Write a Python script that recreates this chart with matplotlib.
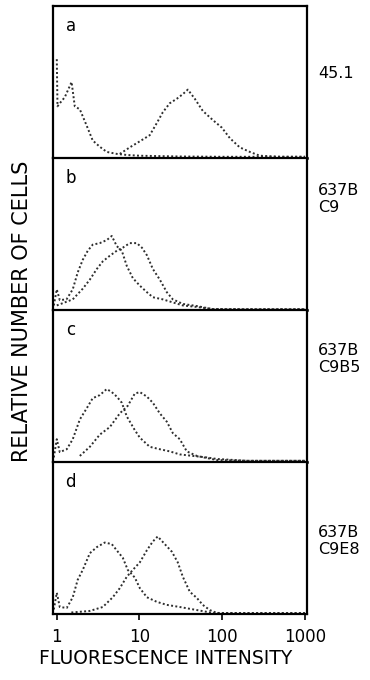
import matplotlib
matplotlib.use("Agg")
import matplotlib.pyplot as plt
from matplotlib.ticker import FixedLocator, FixedFormatter, NullLocator

# ---- data (y = % of panel height) ----
a_neg_x = [1.0, 1.02, 1.087, 1.25, 1.51, 1.65, 1.9, 2.31, 2.72, 3.31, 4.02, 5.32, 7.0, 10, 30, 100, 1000]
a_neg_y = [65, 34, 36, 40, 50, 34, 32, 21, 11.5, 7.4, 4, 2.7, 2, 1.5, 1, 0.8, 0.8]
a_pos_x = [5.78, 7.63, 10.1, 13.3, 16.2, 19.1, 23.2, 28.3, 33.4, 38.4, 46.6, 58.2, 76.9, 98.9, 124, 163, 216, 285, 500, 1000]
a_pos_y = [2.7, 7, 11, 15, 23, 30, 36, 39, 42, 45, 39, 31, 25, 20, 13, 7, 4, 1.5, 0.8, 0.8]

b_left_x = [0.92, 1.0, 1.087, 1.31, 1.56, 1.79, 2.06, 2.37, 2.72, 3.31, 4.02, 4.62, 5.32, 6.11, 7.02, 8.30, 10.1, 12.3, 14.5, 19.1, 25.3, 33.4, 49.3, 76.9, 200, 1000]
b_left_y = [3, 13.6, 6.5, 7, 13.6, 24.7, 33, 39, 43, 44, 46, 48.7, 42, 39, 29, 21, 16, 11.7, 8.4, 7, 5, 3, 2, 0.6, 0.5, 0.5]
b_right_x = [1.0, 1.56, 2.06, 2.51, 3.05, 3.60, 4.38, 5.32, 6.28, 7.63, 9.28, 10.7, 12.3, 14.5, 17.6, 21.4, 25.3, 33.4, 49.3, 76.9, 200, 1000]
b_right_y = [3, 7, 14, 20, 27, 32, 35.7, 39, 41, 44, 44, 41, 36, 27, 20, 11.7, 7, 4, 2.6, 0.6, 0.5, 0.5]

c_left_x = [0.92, 1.0, 1.087, 1.32, 1.56, 1.90, 2.31, 2.72, 3.31, 4.02, 4.62, 5.32, 6.11, 7.02, 8.77, 10.1, 13.3, 17.6, 23.2, 30.7, 44.1, 65.1, 86.0, 200, 1000]
c_left_y = [3, 15, 6.5, 8.4, 15, 28, 35.5, 42, 44, 48, 46, 43, 39, 30, 21, 16, 10, 8.4, 7, 5, 4, 3, 2, 0.8, 0.8]
c_right_x = [1.90, 2.51, 3.31, 4.38, 5.78, 7.22, 8.77, 10.1, 12.3, 14.5, 17.6, 21.4, 25.3, 30.7, 37.3, 49.3, 65.1, 86.0, 200, 1000]
c_right_y = [4, 10, 18, 23, 32, 37, 45, 46, 43, 39, 32, 26.5, 19, 15, 7, 4, 2.6, 1.3, 0.8, 0.8]

d_left_x = [0.92, 1.0, 1.087, 1.32, 1.56, 1.79, 2.06, 2.51, 3.05, 3.80, 4.62, 5.47, 6.28, 7.22, 8.77, 10.1, 12.3, 16.2, 21.4, 30.7, 49.3, 76.9, 200, 1000]
d_left_y = [3, 14, 4.6, 4, 11, 22.5, 29, 40, 44, 47, 46, 41, 37, 29, 24, 17, 11, 8, 6, 4.6, 2.6, 0.7, 0.6, 0.6]
d_right_x = [1.5, 2.5, 3.60, 4.75, 5.78, 7.02, 8.30, 10.1, 12.3, 14.5, 16.6, 20.2, 24.6, 29.0, 33.4, 40.6, 49.3, 58.2, 70.8, 86.0, 200, 1000]
d_right_y = [1, 2, 4.6, 11, 17, 24.5, 29, 34, 42, 47.7, 51, 46, 41, 34, 24.5, 14.6, 10.6, 6, 2.6, 0.7, 0.6, 0.6]

panel_letters = ["a", "b", "c", "d"]
panel_names = ["45.1", "637B\nC9", "637B\nC9B5", "637B\nC9E8"]
tick_values = [1, 10, 100, 1000]
tick_labels = ["1", "10", "100", "1000"]
xlabel = "FLUORESCENCE INTENSITY"
ylabel = "RELATIVE NUMBER OF CELLS"

panels = [
    [(a_neg_x, a_neg_y), (a_pos_x, a_pos_y)],
    [(b_left_x, b_left_y), (b_right_x, b_right_y)],
    [(c_left_x, c_left_y), (c_right_x, c_right_y)],
    [(d_left_x, d_left_y), (d_right_x, d_right_y)],
]

plt.rcParams['font.family'] = ['DejaVu Sans']
W, H = 370, 680
fig = plt.figure(figsize=(W / 100, H / 100), dpi=100)

left_px, right_px = 53, 307
top_px, bottom_px = 6, 614
ph = (bottom_px - top_px) / 4
name_y_px = [73, 199, 359, 541]

for i, curves in enumerate(panels):
    y_top = top_px + i * ph
    ax = fig.add_axes([left_px / W, 1 - (y_top + ph) / H, (right_px - left_px) / W, ph / H])
    for xs, ys in curves:
        ax.plot(xs, ys, color="#2e2e2e", lw=1.4, ls=(0, (1, 1.2)))
    ax.set_xscale("log")
    ax.set_xlim(0.9, 1060)
    ax.set_ylim(0, 100)
    ax.yaxis.set_major_locator(NullLocator())
    ax.yaxis.set_minor_locator(NullLocator())
    ax.xaxis.set_minor_locator(NullLocator())
    for s in ax.spines.values():
        s.set_linewidth(1.6)
        s.set_color("black")
    if i < 3:
        ax.spines['bottom'].set_linewidth(1.8)
    ax.text(0.07, 0.87, panel_letters[i], transform=ax.transAxes, fontsize=12,
            ha="center", va="center")
    fig.text(318 / W, 1 - name_y_px[i] / H, panel_names[i], fontsize=11.5,
             ha="left", va="center", linespacing=1.15)
    if i == 3:
        ax.xaxis.set_major_locator(FixedLocator(tick_values))
        ax.xaxis.set_major_formatter(FixedFormatter(tick_labels))
        ax.tick_params(axis="x", direction="out", length=4, width=1.2, labelsize=12, pad=6)
    else:
        ax.xaxis.set_major_locator(NullLocator())

fig.text(166 / W, 1 - 659 / H, xlabel, ha="center", va="center", fontsize=13.5)
fig.text(22 / W, 1 - 311 / H, ylabel, rotation=90, ha="center", va="center", fontsize=15)

fig.savefig("out.png", dpi=100)
